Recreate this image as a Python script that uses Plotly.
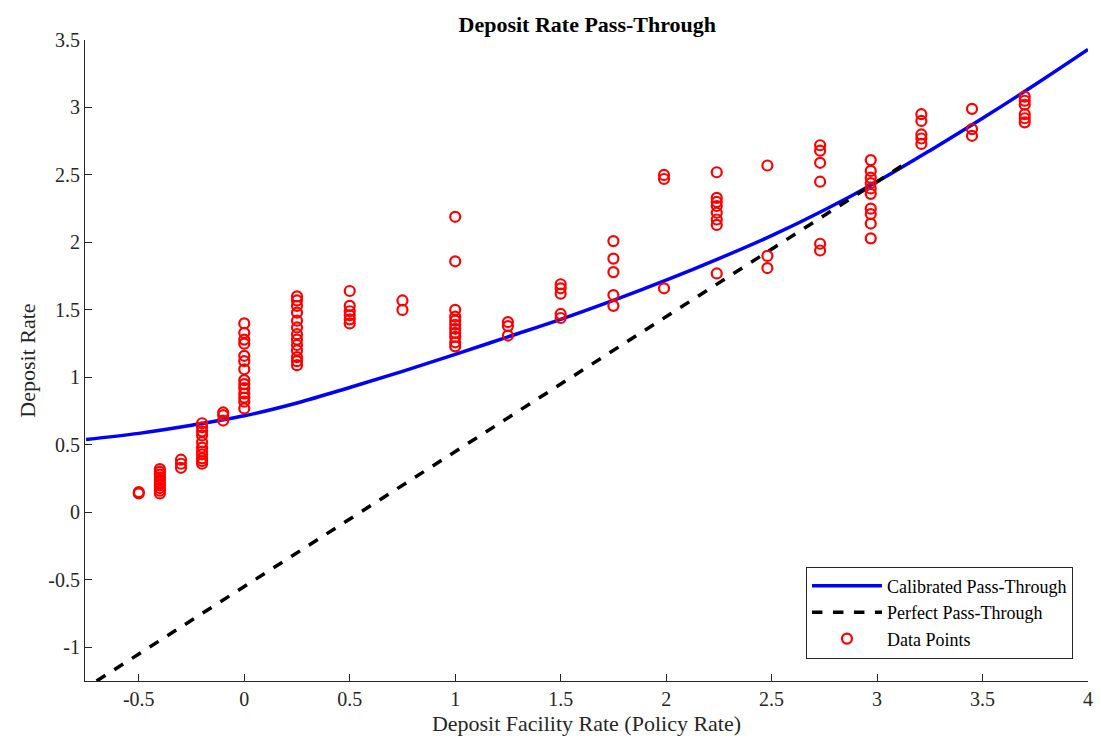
import plotly.graph_objects as go

curve_x = [-0.75,-0.5,-0.25,0,0.25,0.5,0.75,1,1.25,1.5,1.75,2,2.25,2.5,2.75,3,3.25,3.5,3.75,4]
curve_y = [0.54,0.585,0.645,0.715,0.81,0.925,1.045,1.17,1.3,1.43,1.57,1.72,1.88,2.05,2.24,2.45,2.68,2.92,3.17,3.43]
perfect_x = [-0.7, 3.15]
perfect_y = [-1.25, 2.6]

cols = {
    -0.5: [0.15,0.14],
    -0.4: [0.14,0.16,0.18,0.2,0.22,0.24,0.26,0.28,0.3,0.32],
    -0.3: [0.33,0.36,0.39],
    -0.2: [0.36,0.38,0.4,0.43,0.45,0.48,0.52,0.57,0.6,0.63,0.66],
    -0.1: [0.68,0.72,0.74],
    0.0: [0.77,0.82,0.85,0.88,0.92,0.95,0.98,1.06,1.12,1.16,1.25,1.28,1.33,1.4],
    0.25: [1.09,1.12,1.15,1.2,1.24,1.28,1.32,1.37,1.42,1.48,1.53,1.57,1.6],
    0.5: [1.4,1.43,1.46,1.49,1.53,1.64],
    0.75: [1.5,1.57],
    1.0: [1.23,1.26,1.3,1.33,1.36,1.39,1.42,1.45,1.5,1.86,2.19],
    1.25: [1.31,1.38,1.41],
    1.5: [1.44,1.47,1.62,1.66,1.69],
    1.75: [1.53,1.61,1.78,1.88,2.01],
    1.99: [1.66,2.47,2.5],
    2.24: [1.77,2.13,2.17,2.22,2.27,2.3,2.33,2.52],
    2.48: [1.81,1.9,2.57],
    2.73: [1.94,1.99,2.45,2.59,2.68,2.72],
    2.97: [2.03,2.14,2.21,2.25,2.36,2.4,2.44,2.48,2.53,2.61],
    3.21: [2.73,2.77,2.8,2.9,2.95],
    3.45: [2.79,2.84,2.99],
    3.70: [2.89,2.92,2.95,3.02,3.05,3.08],
}
data_x = [x for x, ys in cols.items() for _ in ys]
data_y = [y for ys in cols.values() for y in ys]

fig = go.Figure()
fig.add_trace(go.Scatter(x=curve_x, y=curve_y, mode="lines", line=dict(color="#0000ff", width=3.5, shape="spline"),
                         name="Calibrated Pass-Through"))
fig.add_trace(go.Scatter(x=perfect_x, y=perfect_y, mode="lines", line=dict(color="black", width=3.5, dash="dash"),
                         name="Perfect Pass-Through"))
fig.add_trace(go.Scatter(x=data_x, y=data_y, mode="markers",
                         marker=dict(symbol="circle-open", color="#ff0000", size=10, line=dict(width=2.2)),
                         name="Data Points"))

font = "Liberation Serif, Times New Roman, serif"
fig.update_layout(
    width=1093, height=741, paper_bgcolor="white", plot_bgcolor="white",
    margin=dict(l=77, r=13, t=32, b=68),
    font=dict(family=font, size=20, color="#262626"),
    title=dict(text="<b>Deposit Rate Pass-Through</b>", x=0.53, xanchor="center", y=0.988, yanchor="top",
               font=dict(size=22, color="black")),
    showlegend=True,
    legend=dict(x=0.985, y=0.035, xanchor="right", yanchor="bottom", bordercolor="#262626", borderwidth=1,
                bgcolor="white", font=dict(size=18, color="black"), itemwidth=70, tracegroupgap=0),
)
fig.update_xaxes(range=[-0.755, 4], tickvals=[-0.5,0,0.5,1,1.5,2,2.5,3,3.5,4],
                 ticktext=["-0.5","0","0.5","1","1.5","2","2.5","3","3.5","4"], automargin=False,
                 ticks="inside", ticklen=7, tickcolor="#262626", showline=True, linecolor="#262626",
                 showgrid=False, zeroline=False,
                 title=dict(text="Deposit Facility Rate (Policy Rate)", standoff=6, font=dict(size=22)))
fig.update_yaxes(range=[-1.25, 3.5], tickvals=[-1,-0.5,0,0.5,1,1.5,2,2.5,3,3.5],
                 ticktext=["-1","-0.5","0","0.5","1","1.5","2","2.5","3","3.5"], automargin=False,
                 ticks="inside", ticklen=7, tickcolor="#262626", showline=True, linecolor="#262626",
                 showgrid=False, zeroline=False, title=dict(text="Deposit Rate", standoff=6, font=dict(size=22)))
fig.write_html("out.html")
